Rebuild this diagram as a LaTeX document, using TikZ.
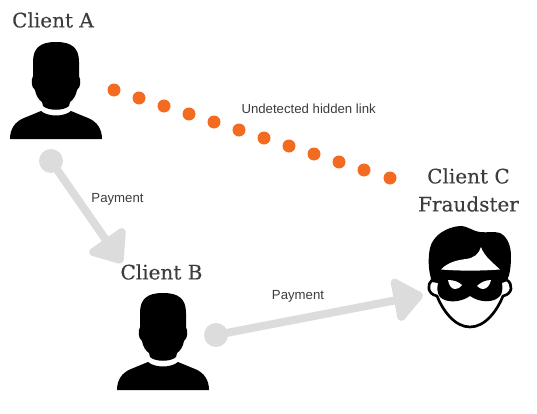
\documentclass[tikz,border=0pt]{standalone}
\usepackage{fontspec}
\setmainfont{Liberation Sans}
\newfontfamily\titlefont[FakeBold=0.3]{DejaVu Serif}
\usetikzlibrary{arrows.meta}
\definecolor{dotorange}{RGB}{243,107,33}
\definecolor{paygray}{RGB}{220,220,220}
\definecolor{titlegray}{RGB}{60,60,60}
\tikzset{every picture/.style={line width=0.75pt}}
\tikzset{
  linkdot/.style={circle,fill=dotorange,inner sep=0pt,minimum size=9.75pt},
  paydot/.style={circle,fill=paygray,inner sep=0pt,minimum size=18pt},
  payarrow/.style={draw=paygray,line width=6pt,-{Triangle[length=24pt,width=37pt,fill=paygray,round]}},
  clientname/.style={inner sep=0.75pt,text=titlegray,font=\titlefont\fontsize{15}{21}\selectfont,align=center},
  paylabel/.style={inner sep=0.75pt,text=titlegray,font=\fontsize{9.9}{12}\selectfont},
  person/.pic={
    %head
    \fill [black] (0,0) .. controls (-16,0) and (-23,6) .. (-23,20) -- (-23,34) .. controls (-25,38) and (-25,45) .. (-21,48) .. controls (-20,54) and (-17,58) .. (-14,60) -- (-13,64) .. controls (-8,69) and (8,69) .. (13,64) -- (14,60) .. controls (17,58) and (20,54) .. (21,48) .. controls (25,45) and (25,38) .. (23,34) -- (23,20) .. controls (23,6) and (16,0) .. (0,0) -- cycle ;
    %shoulders
    \fill [black] (-15,69) .. controls (-8,75) and (8,75) .. (15,69) -- (32,76) .. controls (42,80) and (46,88) .. (46,97) -- (-46,97) .. controls (-46,88) and (-42,80) .. (-32,76) -- cycle ;
  }
}
\begin{document}
\begin{tikzpicture}[x=0.75pt,y=0.75pt,yscale=-1,xscale=1]
\useasboundingbox (0,0) rectangle (537,414);

%Shape: Person
\pic [yscale=-1] at (56,42) {person};
\pic [yscale=-1] at (163,293) {person};

%Shape: Fraudster hair and mask
\fill [black] (432,282) .. controls (428,270) and (428,258) .. (430,248) .. controls (433,235) and (447,227) .. (460,226) .. controls (468,226) and (472,231) .. (480,232) .. controls (487,233) and (494,231) .. (500,233) .. controls (508,237) and (511,247) .. (511,256) .. controls (511,266) and (510,274) .. (507,281) -- (502,283) .. controls (503,289) and (502,294) .. (500,296) .. controls (494,303) and (480,303) .. (470,296) .. controls (460,303) and (446,303) .. (440,297) .. controls (437,293) and (437,288) .. (438,283) -- cycle ;
\fill [white] (441,269.5) .. controls (448,262) and (458,260) .. (466,259) .. controls (474,258) and (479,254) .. (481,247) .. controls (484,256) and (492,262) .. (500,269.5) .. controls (480,271) and (460,271) .. (441,269.5) -- cycle ;
%Shape: Fraudster eyes
\fill [white] (448,280) .. controls (454,280) and (459,282) .. (462,285) .. controls (460,288) and (457,289) .. (455,289) .. controls (451,289) and (449,285) .. (448,280) -- cycle ;
\fill [white] (491,280) .. controls (485,280) and (480,283) .. (477,286) .. controls (479,288) and (481,289) .. (483,289) .. controls (487,289) and (490,285) .. (491,280) -- cycle ;
%Shape: Fraudster face
\draw [line width=2pt] (432,280) .. controls (427,284) and (427,294) .. (437,296) .. controls (443,311) and (455,327) .. (470,327) .. controls (485,327) and (497,311) .. (503,296) .. controls (513,294) and (513,284) .. (507,280) ;

%Dots: hidden link
\node (linkA) [linkdot] at (114,90) {};
\node (linkB) [linkdot] at (139,98) {};
\node (linkC) [linkdot] at (164,106) {};
\node (linkD) [linkdot] at (189,114) {};
\node (linkE) [linkdot] at (214,122) {};
\node (linkF) [linkdot] at (239,130) {};
\node (linkG) [linkdot] at (264,138) {};
\node (linkH) [linkdot] at (289,146) {};
\node (linkI) [linkdot] at (314,154) {};
\node (linkJ) [linkdot] at (339,162) {};
\node (linkK) [linkdot] at (364,170) {};
\node (linkL) [linkdot] at (390,178) {};

%Straight Lines: payments
\node (payAB) [paydot] at (51,161) {};
\coordinate (tipAB) at (122,263);
\draw [payarrow] (payAB.center) -- (tipAB);
\node (payBC) [paydot] at (216,335) {};
\coordinate (tipBC) at (423,295);
\draw [payarrow] (payBC.center) -- (tipBC);

% Text Node
\draw (53,20) node (clientA) [clientname] {Client A};
% Text Node
\draw (161.5,272) node (clientB) [clientname] {Client B};
% Text Node
\draw (468.5,190) node (clientC) [clientname] {Client C\\Fraudster};
% Text Node
\draw (240,109) node (hiddenlabel) [anchor=west][paylabel] {Undetected hidden link};
% Text Node
\draw (117.5,199) node (paylabelA) [paylabel] {Payment};
% Text Node
\draw (298,296) node (paylabelB) [paylabel] {Payment};

\end{tikzpicture}
\end{document}
